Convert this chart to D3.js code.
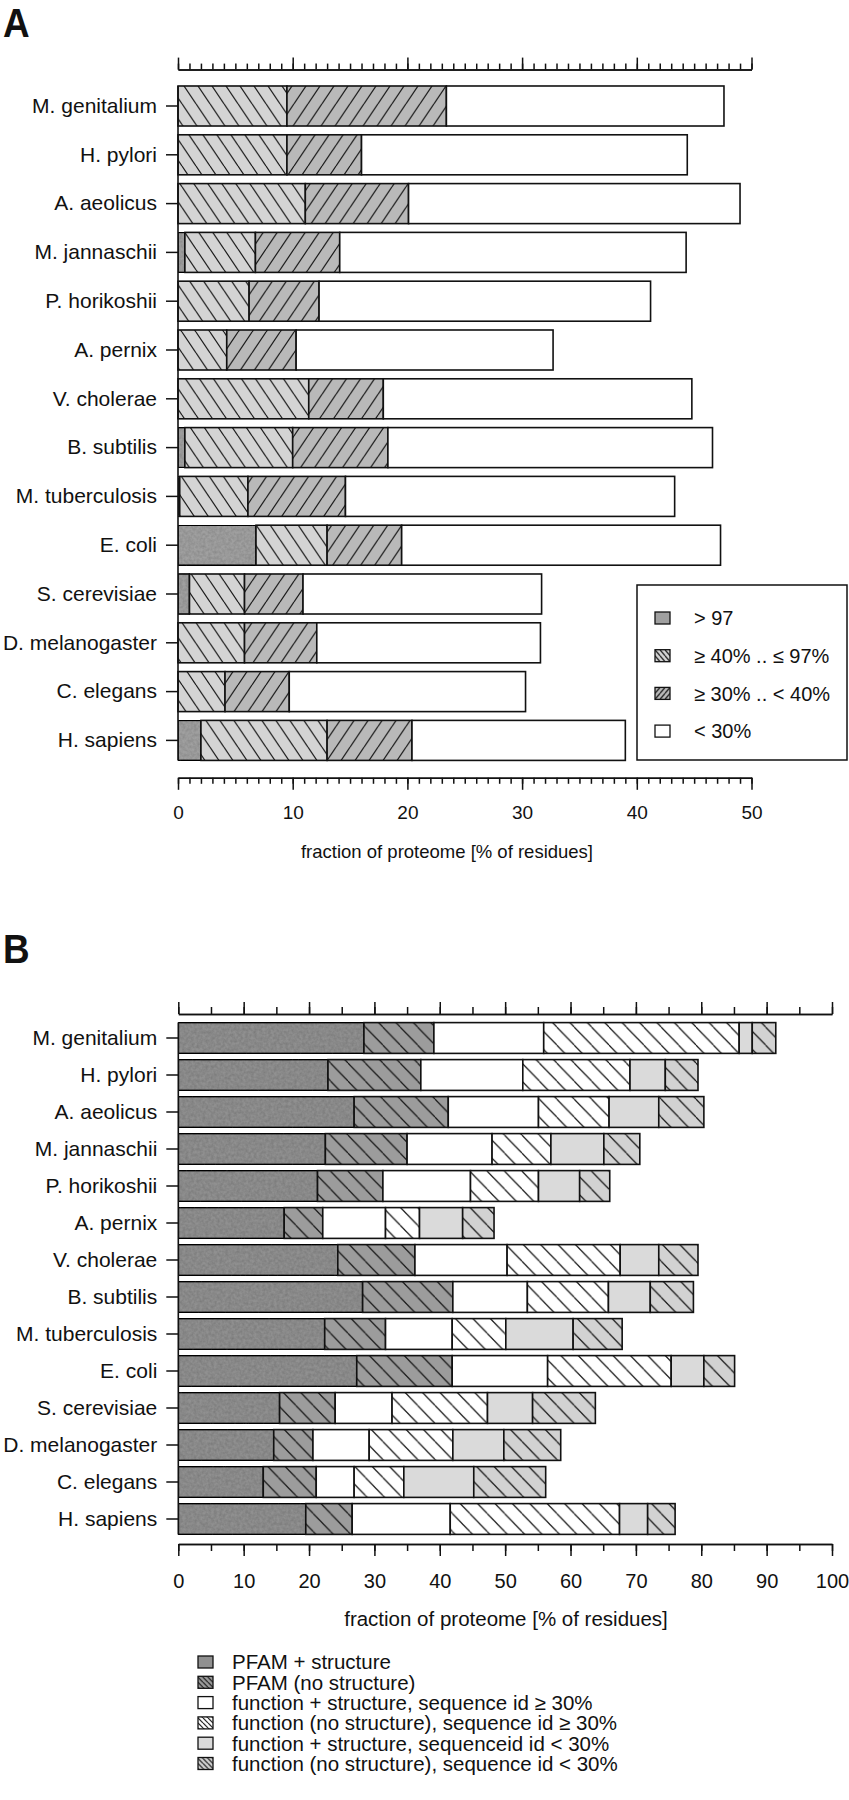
<!DOCTYPE html>
<html>
<head>
<meta charset="utf-8">
<script src="https://cdnjs.cloudflare.com/ajax/libs/d3/7.8.5/d3.min.js"></script>
<style>
    body { margin: 0; background: #fff; }
    svg text { font-family: "Liberation Sans", Arial, Helvetica, sans-serif; fill: #111; }
    .axis path, .axis line { stroke: #111; stroke-width: 1.5; }
    .bar rect { stroke: #111; stroke-width: 1.6; }
</style>
</head>
<body>
<svg width="849" height="1800"></svg>
<script>
var species = ["M. genitalium", "H. pylori", "A. aeolicus", "M. jannaschii", "P. horikoshii",
    "A. pernix", "V. cholerae", "B. subtilis", "M. tuberculosis", "E. coli",
    "S. cerevisiae", "D. melanogaster", "C. elegans", "H. sapiens"];

// panel A, sequence identity classes (% of residues)
var idAbove97 = [0, 0, 0, 0.6, 0, 0, 0, 0.6, 0.15, 6.8, 1.0, 0, 0, 2.0];
var id40to97 = [9.5, 9.5, 11.1, 6.15, 6.2, 4.25, 11.4, 9.4, 5.95, 6.2, 4.8, 5.8, 4.1, 11.0];
var id30to40 = [13.9, 6.5, 9.0, 7.35, 6.1, 6.05, 6.5, 8.3, 8.5, 6.5, 5.1, 6.3, 5.6, 7.4];
var idBelow30 = [24.2, 28.4, 28.9, 30.2, 28.9, 22.4, 26.9, 28.3, 28.7, 27.8, 20.8, 19.5, 20.6, 18.6];
var legendA = ["> 97", "\u2265 40% ..  \u2264 97%", "\u2265 30% .. < 40%", "< 30%"];
var ticksA = d3.range(0, 51, 10);

// panel B, annotation classes (% of residues)
var pfamStruct = [28.4, 22.9, 26.9, 22.5, 21.3, 16.2, 24.4, 28.2, 22.4, 27.3, 15.5, 14.6, 13.0, 19.5];
var pfamNoStruct = [10.7, 14.2, 14.4, 12.5, 10.0, 5.9, 11.8, 13.8, 9.3, 14.6, 8.5, 6.0, 8.1, 7.1];
var funcStructHi = [16.8, 15.6, 13.8, 13.0, 13.4, 9.6, 14.1, 11.4, 10.2, 14.6, 8.7, 8.6, 5.8, 15.0];
var funcNoStructHi = [29.9, 16.4, 10.8, 9.0, 10.4, 5.2, 17.3, 12.4, 8.2, 18.9, 14.6, 12.8, 7.6, 25.9];
var funcStructLo = [2.0, 5.4, 7.6, 8.1, 6.3, 6.6, 5.9, 6.4, 10.3, 5.0, 6.9, 7.8, 10.7, 4.3];
var funcNoStructLo = [3.6, 5.0, 6.9, 5.5, 4.6, 4.8, 6.0, 6.6, 7.5, 4.7, 9.6, 8.7, 11.0, 4.2];
var legendB = ["PFAM + structure", "PFAM (no structure)",
    "function + structure, sequence id \u2265 30%",
    "function (no structure), sequence id \u2265 30%",
    "function + structure, sequenceid id < 30%",
    "function (no structure), sequence id  < 30%"];
var ticksB = d3.range(0, 101, 10);

var svg = d3.select("svg"),
    defs = svg.append("defs");

// speckle for the solid greys, like the scanned print
var grain = defs.append("filter").attr("id", "grain")
    .attr("x", 0).attr("y", 0).attr("width", 1).attr("height", 1);
grain.append("feTurbulence").attr("type", "fractalNoise")
    .attr("baseFrequency", 0.35).attr("numOctaves", 2).attr("seed", 3).attr("result", "noise");
grain.append("feColorMatrix").attr("in", "noise").attr("type", "matrix")
    .attr("values", "0 0 0 0 0  0 0 0 0 0  0 0 0 0 0  0 0 0 0.45 -0.12")
    .attr("result", "spots");
grain.append("feComposite").attr("in", "spots").attr("in2", "SourceGraphic")
    .attr("operator", "in").attr("result", "clip");
var merge = grain.append("feMerge");
merge.append("feMergeNode").attr("in", "SourceGraphic");
merge.append("feMergeNode").attr("in", "clip");

// diagonal hatching: dir 1 = "\", -1 = "/"
function hatch(id, bg, dir, s, angle) {
    var h = s * Math.tan(angle / 180 * Math.PI);
    var p = defs.append("pattern")
        .attr("id", id)
        .attr("patternUnits", "userSpaceOnUse")
        .attr("width", s)
        .attr("height", h);
    p.append("rect").attr("width", s).attr("height", h).attr("fill", bg);
    [-s, 0, s].forEach(function (o) {
        p.append("line")
            .attr("x1", o).attr("y1", dir > 0 ? 0 : h)
            .attr("x2", o + s).attr("y2", dir > 0 ? h : 0)
            .attr("stroke", "#151515")
            .attr("stroke-width", 1.2);
    });
    return "url(#" + id + ")";
}

var fillsA = {
    gt97: "#a0a0a0",
    a40: hatch("a40", "#d4d4d4", 1, 14, 56),
    a30: hatch("a30", "#b9b9b9", -1, 14, 56),
    lt30: "#fff"
};
var swatchA = [fillsA.gt97, hatch("la40", "#d4d4d4", 1, 5, 50), hatch("la30", "#b9b9b9", -1, 5, 50), "#fff"];

var fillsB = {
    ps: "#909090",
    pn: hatch("pn", "#9c9c9c", 1, 17.4, 46),
    fsh: "#fff",
    fnh: hatch("fnh", "#fff", 1, 17.4, 46),
    fsl: "#dadada",
    fnl: hatch("fnl", "#d2d2d2", 1, 17.4, 46)
};
var swatchB = [fillsB.ps, hatch("lpn", "#9c9c9c", 1, 5, 45), "#fff",
    hatch("lfnh", "#fff", 1, 5, 45), fillsB.fsl, hatch("lfnl", "#d2d2d2", 1, 5, 45)];
var grainy = {gt97: true, ps: true};

var rowsA = species.map(function (s, i) {
    return {name: s, gt97: idAbove97[i], a40: id40to97[i], a30: id30to40[i], lt30: idBelow30[i]};
});
var rowsB = species.map(function (s, i) {
    return {name: s, ps: pfamStruct[i], pn: pfamNoStruct[i], fsh: funcStructHi[i],
        fnh: funcNoStructHi[i], fsl: funcStructLo[i], fnl: funcNoStructLo[i]};
});

function panel(cfg) {
    var g = svg.append("g");
    var x = d3.scaleLinear().domain(cfg.domain).range(cfg.xRange);
    var y = d3.scaleBand().domain(species).range(cfg.yRange)
        .paddingInner(cfg.pad).paddingOuter(cfg.pad / 2);

    g.append("text")
        .attr("transform", "translate(" + cfg.letterPos + ") scale(0.9,1)")
        .attr("font-size", 41)
        .attr("font-weight", "bold")
        .text(cfg.letter);

    var series = d3.stack().keys(cfg.keys)(cfg.rows);
    g.selectAll("g.bar")
        .data(series)
        .enter().append("g")
        .attr("class", "bar")
        .attr("fill", function (d) { return cfg.fills[d.key]; })
        .selectAll("rect")
        .data(function (d) { return d.filter(function (v) { return v[1] - v[0] > 0; }); })
        .enter().append("rect")
        .attr("x", function (d) { return x(d[0]); })
        .attr("y", function (d) { return y(d.data.name); })
        .attr("width", function (d) { return x(d[1]) - x(d[0]); })
        .attr("height", y.bandwidth());
    g.selectAll("g.bar").filter(function (d) { return grainy[d.key]; })
        .selectAll("rect").attr("filter", "url(#grain)");

    // top axis: ticks only
    var top = y.range()[0] - cfg.topGap;
    g.append("g").attr("class", "axis")
        .attr("transform", "translate(0," + top + ")")
        .call(d3.axisTop(x).tickValues(d3.range(cfg.domain[0], cfg.domain[1] + 0.1, cfg.minor))
            .tickSize(cfg.minorLen).tickSizeOuter(0).tickFormat(""));
    g.append("g").attr("class", "axis")
        .attr("transform", "translate(0," + top + ")")
        .call(d3.axisTop(x).tickValues(cfg.ticks).tickSize(12).tickSizeOuter(0).tickFormat(""));

    // bottom axis with labels
    var bottom = y.range()[1] + cfg.bottomGap;
    g.append("g").attr("class", "axis")
        .attr("transform", "translate(0," + bottom + ")")
        .call(d3.axisBottom(x).tickValues(d3.range(cfg.domain[0], cfg.domain[1] + 0.1, cfg.minor))
            .tickSize(cfg.minorLen).tickSizeOuter(0).tickFormat(""));
    var bx = g.append("g").attr("class", "axis")
        .attr("transform", "translate(0," + bottom + ")")
        .call(d3.axisBottom(x).tickValues(cfg.ticks).tickSize(12).tickSizeOuter(0)
            .tickPadding(cfg.labelPad).tickFormat(d3.format("d")));
    bx.selectAll("text").attr("font-size", cfg.tickFont).attr("font-family", null).attr("fill", "#111");

    g.append("text")
        .attr("x", cfg.titleX)
        .attr("y", bottom + cfg.titleGap)
        .attr("text-anchor", "middle")
        .attr("font-size", cfg.titleFont)
        .text("fraction of proteome [% of residues]");

    // left axis
    var ly = g.append("g").attr("class", "axis")
        .attr("transform", "translate(" + x(0) + ",0)")
        .call(d3.axisLeft(y).tickSize(12).tickPadding(9));
    ly.select(".domain").remove();
    ly.selectAll("text").attr("font-size", 21).attr("font-family", null).attr("fill", "#111");
    g.append("line")
        .attr("x1", x(0)).attr("x2", x(0))
        .attr("y1", y(species[0]))
        .attr("y2", y(species[species.length - 1]) + y.bandwidth())
        .attr("stroke", "#111").attr("stroke-width", 1.6);

    return {g: g, x: x, y: y};
}

panel({
    letter: "A", letterPos: [3, 37],
    domain: [0, 50], xRange: [178, 751.5],
    yRange: [81.6, 764.8], pad: 0.18,
    rows: rowsA, keys: ["gt97", "a40", "a30", "lt30"], fills: fillsA,
    ticks: ticksA, minor: 1, minorLen: 6,
    topGap: 12, bottomGap: 13, labelPad: 16, tickFont: 19,
    titleX: 447, titleGap: 80, titleFont: 18.5
});

panel({
    letter: "B", letterPos: [3, 963],
    domain: [0, 100], xRange: [178.3, 832],
    yRange: [1019.5, 1537.5], pad: 0.168,
    rows: rowsB, keys: ["ps", "pn", "fsh", "fnh", "fsl", "fnl"], fills: fillsB,
    ticks: ticksB, minor: 5, minorLen: 7,
    topGap: 5.5, bottomGap: 6.5, labelPad: 18, tickFont: 20,
    titleX: 506, titleGap: 82, titleFont: 20.5
});

// legend A (boxed)
var legA = svg.append("g");
legA.append("rect")
    .attr("x", 637).attr("y", 585).attr("width", 210).attr("height", 175)
    .attr("fill", "#fff").attr("stroke", "#111").attr("stroke-width", 1.5);
var itemA = legA.selectAll("g.item").data(legendA).enter().append("g")
    .attr("class", "item")
    .attr("transform", function (d, i) { return "translate(655," + (618 + i * 37.7) + ")"; });
itemA.append("rect")
    .attr("x", 0).attr("y", -6).attr("width", 15).attr("height", 12)
    .attr("fill", function (d, i) { return swatchA[i]; })
    .attr("stroke", "#111").attr("stroke-width", 1.3);
itemA.append("text")
    .attr("x", 39).attr("dy", "0.36em")
    .attr("font-size", 20)
    .text(function (d) { return d; });

// legend B
var itemB = svg.append("g").selectAll("g.item").data(legendB).enter().append("g")
    .attr("class", "item")
    .attr("transform", function (d, i) { return "translate(198," + (1662 + i * 20.3) + ")"; });
itemB.append("rect")
    .attr("x", 0).attr("y", -6).attr("width", 15).attr("height", 12)
    .attr("fill", function (d, i) { return swatchB[i]; })
    .attr("stroke", "#111").attr("stroke-width", 1.3);
itemB.append("text")
    .attr("x", 34).attr("dy", "0.36em")
    .attr("font-size", 20.5)
    .text(function (d) { return d; });
</script>
</body>
</html>
